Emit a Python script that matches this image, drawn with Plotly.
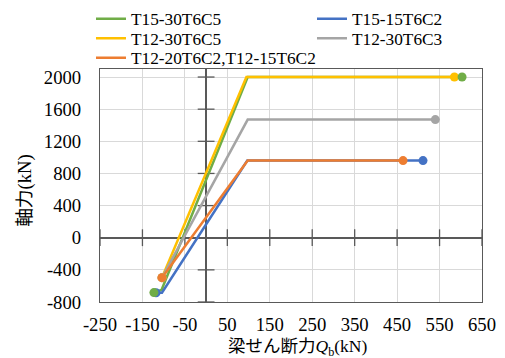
import plotly.graph_objects as go

# ---- data ----
q_ticks = [-250, -150, -50, 50, 150, 250, 350, 450, 550, 650]
n_ticks = [-800, -400, 0, 400, 800, 1200, 1600, 2000]

names = ["T15-30T6C5", "T15-15T6C2", "T12-30T6C5", "T12-30T6C3",
         "T12-20T6C2,T12-15T6C2"]
colors = ["#70AD47", "#4472C4", "#FFC000", "#A5A5A5", "#ED7D31"]

green_q = [-123, -105, 98, 603]
green_n = [-683, -650, 2000, 2000]
blue_q = [-118, -104, 97, 511]
blue_n = [-685, -685, 960, 960]
yellow_q = [-104, 95, 585]
yellow_n = [-497, 2000, 2000]
grey_q = [-104, 98, 540]
grey_n = [-497, 1470, 1470]
orange_q = [-104, 98, 464]
orange_n = [-497, 960, 960]

series_q = [green_q, blue_q, yellow_q, grey_q, orange_q]
series_n = [green_n, blue_n, yellow_n, grey_n, orange_n]
legend_ids = ["legend", "legend", "legend2", "legend2", "legend3"]

SERIF = "Liberation Serif, Times New Roman, DejaVu Serif, serif"
AX = "#595959"
fig = go.Figure()

# cross tick marks on the zero axes
fig.add_trace(go.Scatter(x=q_ticks, y=[0] * len(q_ticks), mode="markers",
                         marker=dict(symbol="line-ns", size=12,
                                     line=dict(width=1.3, color=AX)),
                         showlegend=False, hoverinfo="skip", cliponaxis=False))
fig.add_trace(go.Scatter(x=[0] * len(n_ticks), y=n_ticks, mode="markers",
                         marker=dict(symbol="line-ew", size=12,
                                     line=dict(width=1.3, color=AX)),
                         showlegend=False, hoverinfo="skip", cliponaxis=False))

# lines
for name, c, q, n, lg in zip(names, colors, series_q, series_n, legend_ids):
    fig.add_trace(go.Scatter(x=q, y=n, mode="lines", name=name, legend=lg,
                             line=dict(color=c, width=2.5)))

# end-point markers (drawn on top)
marker_order = [2, 3, 1, 0, 4]
for i in marker_order:
    q, n = series_q[i], series_n[i]
    fig.add_trace(go.Scatter(x=[q[0], q[-1]], y=[n[0], n[-1]], mode="markers",
                             marker=dict(color=colors[i], size=9),
                             showlegend=False, hoverinfo="skip"))

tick_font = dict(family=SERIF, size=18.7, color="black")
leg_common = dict(orientation="h", x=-0.0236, xanchor="left", yanchor="middle",
                  entrywidthmode="pixels",
                  font=dict(family=SERIF, size=17.3, color="black"),
                  bgcolor="rgba(0,0,0,0)", borderwidth=0)

fig.update_layout(
    width=505, height=358,
    margin=dict(l=100, r=23, t=69, b=56, autoexpand=False),
    paper_bgcolor="white", plot_bgcolor="white",
    font=dict(family=SERIF),
    legend=dict(y=1.2146, entrywidth=176, **leg_common),
    legend2=dict(y=1.1309, entrywidth=176, **leg_common),
    legend3=dict(y=1.0472, entrywidth=230, **leg_common),
    xaxis=dict(range=[-250, 650], tickmode="array", tickvals=q_ticks,
               ticktext=[str(v) for v in q_ticks], tickfont=tick_font,
               showgrid=True, gridcolor="#D9D9D9", gridwidth=1,
               zeroline=True, zerolinecolor=AX, zerolinewidth=1.6,
               showline=True, linecolor=AX, linewidth=1.2, mirror=True,
               ticks="outside", ticklen=5, tickcolor="rgba(0,0,0,0)"),
    yaxis=dict(range=[-800, 2100], tickmode="array", tickvals=n_ticks,
               ticktext=[str(v) for v in n_ticks], tickfont=tick_font,
               showgrid=True, gridcolor="#D9D9D9", gridwidth=1,
               zeroline=True, zerolinecolor=AX, zerolinewidth=1.6,
               showline=True, linecolor=AX, linewidth=1.2, mirror=True,
               ticks="outside", ticklen=14, tickcolor="rgba(0,0,0,0)"),
    annotations=[
        dict(text="<span style='font-family:Noto Sans CJK JP'>軸力</span>(kN)",
             xref="paper", yref="paper", x=-0.205, y=0.48, textangle=-90,
             showarrow=False, xanchor="center", yanchor="middle",
             font=dict(family=SERIF, size=18.7, color="black")),
        dict(text="<span style='font-family:Noto Sans CJK JP'>梁せん断力</span><i>Q</i><sub>b</sub>(kN)",
             xref="paper", yref="paper", x=0.516, y=-0.186,
             showarrow=False, xanchor="center", yanchor="middle",
             font=dict(family=SERIF, size=17.5, color="black")),
    ],
)

fig.write_html("out.html")
